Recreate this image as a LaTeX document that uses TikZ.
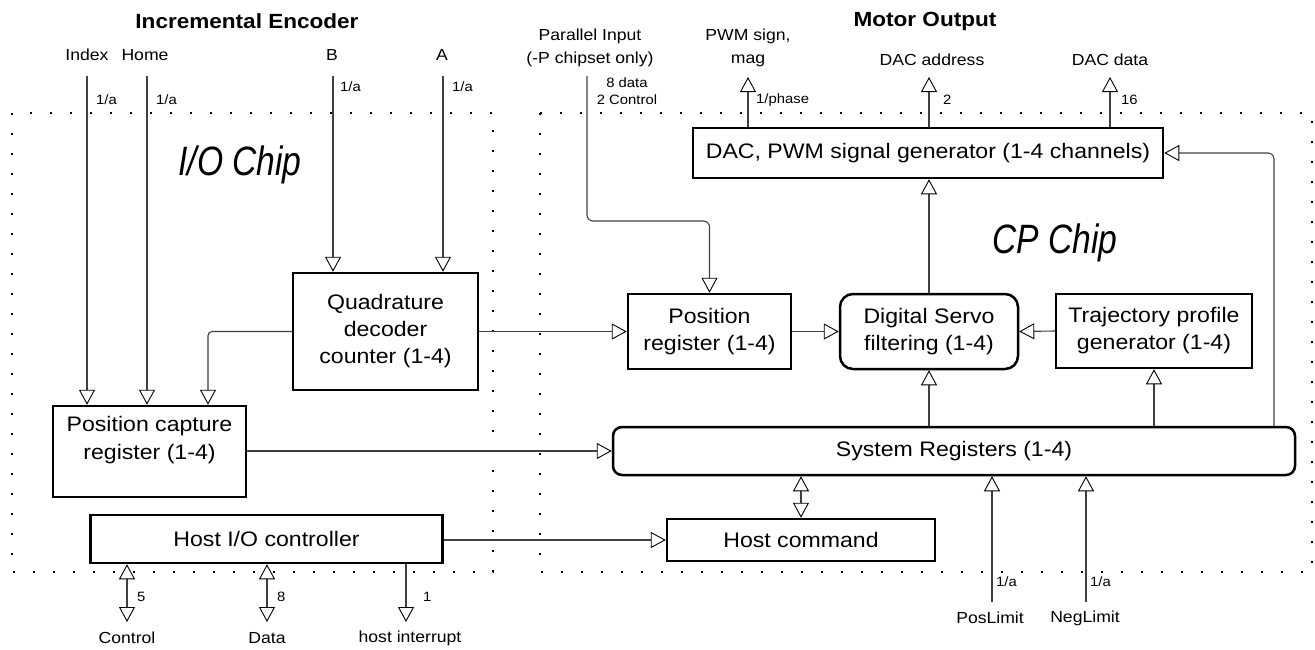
\documentclass[tikz,border=0pt]{standalone}
\usepackage{fontspec}
\setmainfont{Liberation Sans}[FakeStretch=1.1]
\newfontfamily\chipfont{Liberation Sans}[FakeStretch=0.82]
\usetikzlibrary{arrows.meta,calc}

\tikzset{
  block/.style={draw, line width=2.5pt, inner sep=0pt, align=center,
    font=\fontsize{21}{27}\selectfont},
  rblock/.style={block, rounded corners=13pt},
  conn/.style={draw=black!75, line width=1.1pt, rounded corners=6pt},
  border/.style={draw, line width=2.4pt, dash pattern=on 2.4pt off 17.6pt},
  heading/.style={font=\bfseries\fontsize{20.5}{24}\selectfont},
  pin/.style={font=\fontsize{16}{23}\selectfont, align=center},
  tag/.style={font=\fontsize{13.5}{17}\selectfont, align=center, inner sep=0pt},
  chip/.style={font=\chipfont\itshape\fontsize{41}{46}\selectfont},
  >={Triangle[open, length=15pt, width=16pt, line width=0.9pt, color=black]}
}

\begin{document}
\begin{tikzpicture}[x=1pt, y=-1pt]
\useasboundingbox (0,0) rectangle (1315,649);

% chip boundaries
\draw[border] (12,113) rectangle (493,572);
\draw[border] (540,113) rectangle (1312,572);

% headings and chip names
\node[heading] (hEnc) at (247,21) {Incremental Encoder};
\node[heading] (hMot) at (925,21) {Motor Output};
\node[chip] (ioChip) at (240,165) {I/O Chip};
\node[chip] (cpChip) at (1055,243) {CP Chip};

% blocks
\node[block, minimum width=185, minimum height=117] (quad) at (385.5,331.5)
  {Quadrature\\decoder\\counter (1-4)};
\node[block, minimum width=193, minimum height=91] (pcr) at (149.5,451.5) {};
\node[font=\fontsize{21}{28}\selectfont, align=center] (pcrText) at (149.5,440)
  {Position capture\\register (1-4)};
\node[block, minimum width=163, minimum height=75] (posreg) at (709.5,331.5)
  {Position\\register (1-4)};
\node[rblock, minimum width=178, minimum height=75] (servo) at (929,331.5)
  {Digital Servo\\filtering (1-4)};
\node[block, minimum width=196, minimum height=74] (traj) at (1154,331)
  {Trajectory profile\\generator (1-4)};
\node[block, minimum width=470, minimum height=50] (dac) at (928,153)
  {DAC, PWM signal generator (1-4 channels)};
\node[block, rounded corners=9pt, minimum width=682, minimum height=48] (sysreg) at (954,451)
  {System Registers (1-4)};
\node[block, minimum width=268, minimum height=42] (hcmd) at (801,540)
  {Host command};
\node[block, minimum width=352, minimum height=48] (hio) at (266.5,539)
  {Host I/O controller};

% encoder inputs
\node[pin] (lIdx) at (87,55) {Index};
\node[pin] (lHome) at (145,55) {Home};
\node[pin] (lB) at (332,55) {B};
\node[pin] (lA) at (442,55) {A};
\coordinate (idx) at (87,76);
\coordinate (home) at (147,76);
\coordinate (encB) at (333,76);
\coordinate (encA) at (443,76);
\draw[conn, ->] (idx) -- (idx |- pcr.north);
\draw[conn, ->] (home) -- (home |- pcr.north);
\draw[conn, ->] (encB) -- (encB |- quad.north);
\draw[conn, ->] (encA) -- (encA |- quad.north);
\node[tag, anchor=west] (tIdx) at (96,100) {1/a};
\node[tag, anchor=west] (tHome) at (156,100) {1/a};
\node[tag, anchor=west] (tB) at (340,87) {1/a};
\node[tag, anchor=west] (tA) at (452,87) {1/a};

% parallel input
\node[pin] (lPar) at (590,48) {Parallel Input\\(-P chipset only)};
\node[tag] (tPar) at (627,91.5) {8 data\\2 Control};
\coordinate (par) at (587,76);
\coordinate (parBend) at (0,221);
\draw[conn, ->] (par) |- (posreg.north |- parBend) -- (posreg.north);

% motor outputs
\node[pin] (lPwm) at (748,48) {PWM sign,\\mag};
\node[pin] (lAddr) at (932,60) {DAC address};
\node[pin] (lData) at (1110,60) {DAC data};
\coordinate (pwm) at (748,77);
\coordinate (addr) at (929,77);
\coordinate (ddata) at (1110,77);
\draw[conn, ->] (dac.north -| pwm) -- (pwm);
\draw[conn, ->] (dac.north -| addr) -- (addr);
\draw[conn, ->] (dac.north -| ddata) -- (ddata);
\node[tag, anchor=west] (tPwm) at (756,100) {1/phase};
\node[tag, anchor=west] (tAddr) at (943,100) {2};
\node[tag, anchor=west] (tData) at (1121,100) {16};

% internal data paths
\coordinate (capTap) at (208,0);
\draw[conn, ->, rounded corners=4pt] (quad.west) -| (pcr.north -| capTap);
\draw[conn, ->] (quad.east) -- (posreg.west);
\draw[conn, ->] (posreg.east) -- (servo.west);
\draw[conn, ->] (traj.west) -- (servo.east);
\draw[conn, ->] (servo.north) -- (servo.north |- dac.south);
\draw[conn, ->] (sysreg.north -| servo.south) -- (servo.south);
\draw[conn, ->] (sysreg.north -| traj.south) -- (traj.south);
\coordinate (dacLoop) at (1274,0);
\draw[conn, ->] (sysreg.north -| dacLoop) |- (dac.east);
\draw[conn, ->] (pcr.east |- sysreg.west) -- (sysreg.west);
\draw[conn, <->] (sysreg.south -| hcmd.north) -- (hcmd.north);
\draw[conn, ->] (hio.east |- hcmd.west) -- (hcmd.west);

% limit switches
\coordinate (posLim) at (992,602);
\coordinate (negLim) at (1086,602);
\draw[conn, ->] (posLim) -- (posLim |- sysreg.south);
\draw[conn, ->] (negLim) -- (negLim |- sysreg.south);
\node[tag, anchor=west] (tPos) at (996,582) {1/a};
\node[tag, anchor=west] (tNeg) at (1090,582) {1/a};
\node[pin] (lPos) at (990,618) {PosLimit};
\node[pin] (lNeg) at (1085,618) {NegLimit};

% host bus
\coordinate (ctrl) at (127,622);
\coordinate (data) at (267,622);
\coordinate (irq) at (406,622);
\draw[conn, <->] (hio.south -| ctrl) -- (ctrl);
\draw[conn, <->] (hio.south -| data) -- (data);
\draw[conn, ->] (hio.south -| irq) -- (irq);
\node[tag, anchor=west] (tCtrl) at (137,597) {5};
\node[tag, anchor=west] (tData2) at (277,597) {8};
\node[tag, anchor=west] (tIrq) at (423,597) {1};
\node[pin] (lCtrl) at (127,638) {Control};
\node[pin] (lData2) at (267,638) {Data};
\node[pin] (lIrq) at (410,638) {host interrupt};
\end{tikzpicture}
\end{document}
